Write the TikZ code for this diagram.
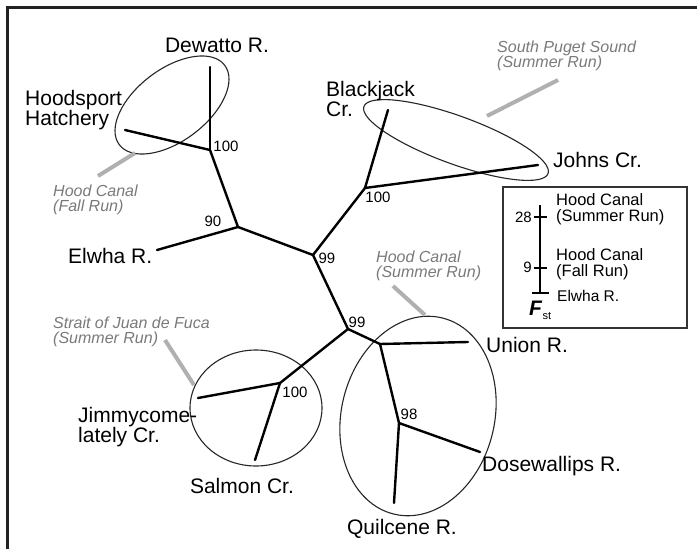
\documentclass[tikz,border=0pt]{standalone}
\usepackage{fontspec}
\setmainfont{Liberation Sans}
\definecolor{gtext}{HTML}{7A7A7A}
\definecolor{gline}{HTML}{B0B0B0}
\definecolor{frame}{HTML}{222222}
\begin{document}
\begin{tikzpicture}[x=1pt,y=-1pt,
  branch/.style={line width=2.4pt, line cap=round},
  clade/.style={line width=1.1pt, draw=black!85},
  lbl/.style={inner sep=0pt, font=\fontsize{21}{17}\selectfont, align=left},
  boot/.style={inner sep=0pt, font=\fontsize{15}{15}\selectfont},
  grp/.style={inner sep=0pt, font=\fontsize{16}{15.5}\selectfont\itshape, text=gtext, align=left},
  leader/.style={line width=4pt, draw=gline},
  leg/.style={inner sep=0pt, font=\fontsize{16.5}{16}\selectfont, align=left}]
\useasboundingbox (0,0) rectangle (697,549);
\fill[white] (0,0) rectangle (697,549);
\draw[line width=3pt, draw=frame] (697,7) -- (7,7) -- (7,549);

% internal nodes
\coordinate (A) at (210,150);
\coordinate (B) at (238,227);
\coordinate (C) at (313,255);
\coordinate (D) at (365,188);
\coordinate (E) at (348,329);
\coordinate (F) at (380,344);
\coordinate (G) at (399,423);
\coordinate (H) at (280,383);
% tips
\coordinate (dew) at (210,67);
\coordinate (hood) at (125,130);
\coordinate (elw) at (157,250);
\coordinate (black) at (388,110);
\coordinate (johns) at (538,165);
\coordinate (union) at (468,342);
\coordinate (dose) at (480,452);
\coordinate (quil) at (394,503);
\coordinate (jimmy) at (198,398);
\coordinate (salmon) at (255,460);

% clade ellipses
\draw[clade, rotate around={37:(172,105)}] (172,105) ellipse [x radius=66, y radius=36];
\draw[clade, rotate around={-20:(456,140)}] (456,140) ellipse [x radius=98, y radius=24];
\draw[clade] (256,408) ellipse [x radius=66, y radius=58];
\draw[clade, rotate around={-14:(418,416)}] (418,416) ellipse [x radius=76.5, y radius=101];

% branches
\draw[branch] (A) -- (dew);
\draw[branch] (A) -- (hood);
\draw[branch] (A) -- (B);
\draw[branch] (B) -- (elw);
\draw[branch] (B) -- (C);
\draw[branch] (C) -- (D);
\draw[branch] (D) -- (black);
\draw[branch] (D) -- (johns);
\draw[branch] (C) -- (E);
\draw[branch] (E) -- (H);
\draw[branch] (H) -- (jimmy);
\draw[branch] (H) -- (salmon);
\draw[branch] (E) -- (F);
\draw[branch] (F) -- (union);
\draw[branch] (F) -- (G);
\draw[branch] (G) -- (dose);
\draw[branch] (G) -- (quil);

% tip labels
\node[lbl] (tdew) at (217,45) {Dewatto R.};
\node[lbl, anchor=west] (thood) at (25,110) {Hoodsport\\Hatchery};
\node[lbl, anchor=west] (telw) at (68,256) {Elwha R.};
\node[lbl, anchor=west, font=\fontsize{21}{18}\selectfont] (tblack) at (326,99) {Blackjack\\Cr.};
\node[lbl, anchor=west] (tjohns) at (553,160) {Johns Cr.};
\node[lbl, anchor=west] (tunion) at (486,345) {Union R.};
\node[lbl, anchor=west] (tdose) at (482,466) {Dosewallips R.};
\node[lbl] (tquil) at (402,529) {Quilcene R.};
\node[lbl] (tsalmon) at (242,486) {Salmon Cr.};
\node[lbl, anchor=west, font=\fontsize{21}{20}\selectfont] (tjimmy) at (78,427) {Jimmycome-\\lately Cr.};

% bootstrap values
\node[boot] (bA) at (226,146) {100};
\node[boot] (bB) at (213,221) {90};
\node[boot] (bC) at (327,258) {99};
\node[boot] (bD) at (378,197) {100};
\node[boot] (bE) at (357,322) {99};
\node[boot] (bG) at (409,414) {98};
\node[boot] (bH) at (295,392) {100};

% group labels and leaders
\node[grp, anchor=west] (gfall) at (53,200) {Hood Canal\\(Fall Run)};
\node[grp, anchor=west] (gpuget) at (497,56) {South Puget Sound\\(Summer Run)};
\node[grp, anchor=west] (gsummer) at (376,266) {Hood Canal\\(Summer Run)};
\node[grp, anchor=west] (gstrait) at (53,332) {Strait of Juan de Fuca\\(Summer Run)};
\coordinate (lf1) at (135,153); \coordinate (lf2) at (98,176);
\coordinate (lp1) at (487,116); \coordinate (lp2) at (558,80);
\coordinate (ls1) at (194,385); \coordinate (ls2) at (165,340);
\coordinate (lh1) at (425,315); \coordinate (lh2) at (393,286);
\draw[leader] (lf1) -- (lf2);
\draw[leader] (lp1) -- (lp2);
\draw[leader] (ls1) -- (ls2);
\draw[leader] (lh1) -- (lh2);

% legend
\draw[line width=1.5pt, draw=black!80] (503,187) rectangle (687,328);
\coordinate (sTop) at (540,205);
\coordinate (sBot) at (540,293);
\draw[branch, line cap=butt] (sTop) -- (sBot);
\coordinate (t28a) at (534,217); \coordinate (t28b) at (547,217);
\coordinate (t9a) at (534,268); \coordinate (t9b) at (547,268);
\coordinate (t0a) at (532,293); \coordinate (t0b) at (549,293);
\draw[line width=2.2pt] (t28a) -- (t28b);
\draw[line width=2.2pt] (t9a) -- (t9b);
\draw[line width=2.2pt] (t0a) -- (t0b);
\node[boot, anchor=east] (n28) at (532,217) {28};
\node[boot, anchor=east] (n9) at (532,267) {9};
\node[leg, anchor=west] (lsum) at (556,209) {Hood Canal\\(Summer Run)};
\node[leg, anchor=west] (lfall) at (556,264) {Hood Canal\\(Fall Run)};
\node[leg, anchor=west, font=\fontsize{15.5}{15}\selectfont] (lelw) at (557,296) {Elwha R.};
\node[inner sep=0pt, anchor=base west] (fst) at (529,315) {\fontsize{21}{21}\selectfont\bfseries\itshape F\kern0.5pt\raisebox{-4pt}{\fontsize{11}{11}\selectfont\mdseries\upshape st}};
\end{tikzpicture}
\end{document}
